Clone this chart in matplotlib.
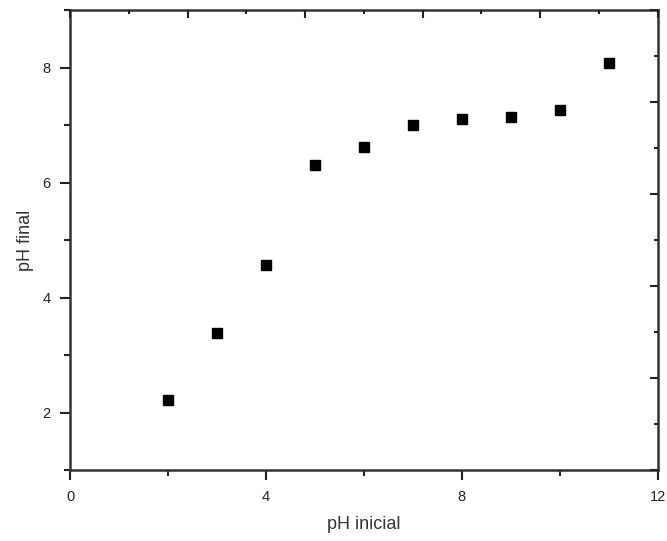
import matplotlib
matplotlib.use('Agg')
import matplotlib.pyplot as plt
from matplotlib.ticker import MultipleLocator, NullFormatter

plt.rcParams['font.family'] = ['Liberation Sans', 'DejaVu Sans']

# Data
ph_inicial = [2, 3, 4, 5, 6, 7, 8, 9, 10, 11]
ph_final = [2.22, 3.38, 4.57, 6.30, 6.63, 7.01, 7.10, 7.14, 7.26, 8.08]

fig = plt.figure(figsize=(6.67, 5.41), dpi=100)
ax = fig.add_axes([0.105, 0.131, 0.881, 0.850])

ax.plot(ph_inicial, ph_final, linestyle='none', marker='s', markersize=7.2,
        color='black')

ax.set_xlim(0, 12)
ax.set_ylim(1, 9)
ax.xaxis.set_major_locator(MultipleLocator(4))
ax.xaxis.set_minor_locator(MultipleLocator(2))
ax.yaxis.set_major_locator(MultipleLocator(2))
ax.yaxis.set_minor_locator(MultipleLocator(1))
ax.tick_params(which='major', direction='out', length=7, width=1.5,
               color='#222222', labelsize=10.5, pad=7, labelcolor='#222222')
ax.tick_params(which='minor', direction='out', length=4, width=1.5,
               color='#222222')

for sp in ax.spines.values():
    sp.set_linewidth(1.8)
    sp.set_color('#333333')

ax.set_xlabel('pH inicial', fontsize=13, color='#333333', labelpad=9)
ax.set_ylabel('pH final', fontsize=13, color='#333333', labelpad=6)

# inward ticks on the top and right frame
top = ax.twiny()
top.set_xlim(0, 10)
top.xaxis.set_major_locator(MultipleLocator(2))
top.xaxis.set_minor_locator(MultipleLocator(1))
top.xaxis.set_major_formatter(NullFormatter())
top.tick_params(which='major', direction='in', length=6, width=1.5, color='#222222')
top.tick_params(which='minor', direction='in', length=3, width=1.5, color='#222222')

right = ax.twinx()
right.set_ylim(0, 10)
right.yaxis.set_major_locator(MultipleLocator(2))
right.yaxis.set_minor_locator(MultipleLocator(1))
right.yaxis.set_major_formatter(NullFormatter())
right.tick_params(which='major', direction='in', length=6, width=1.5, color='#222222')
right.tick_params(which='minor', direction='in', length=3, width=1.5, color='#222222')
for a in (top, right):
    for sp in a.spines.values():
        sp.set_visible(False)

fig.savefig('out.png', dpi=100)
